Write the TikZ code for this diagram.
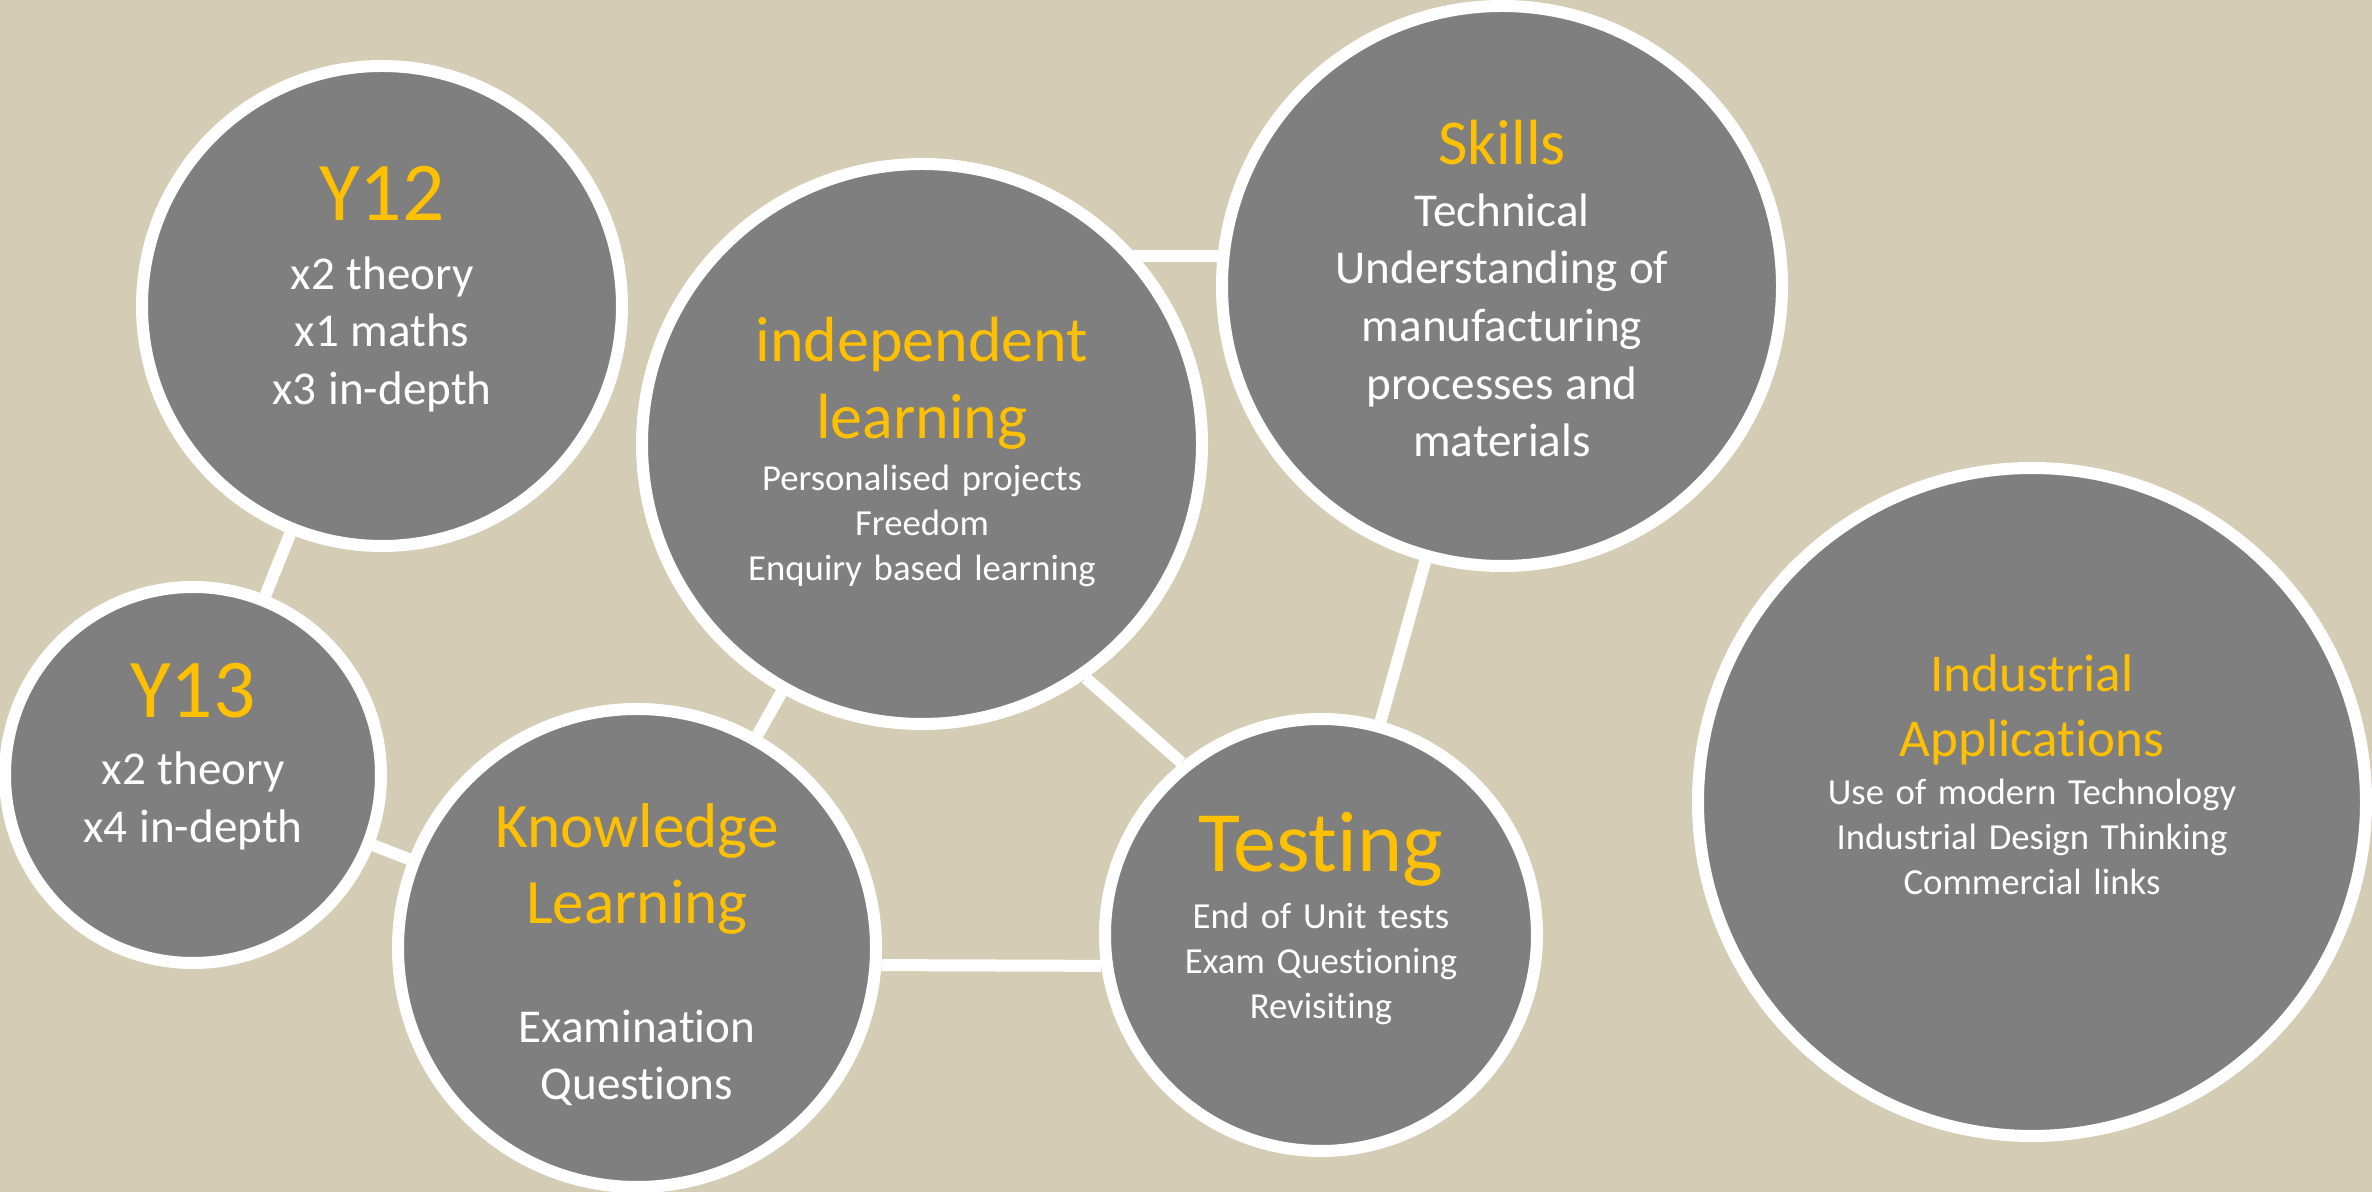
\documentclass[tikz,border=0pt]{standalone}
\usepackage{fontspec}
\setmainfont{Carlito}[Ligatures=NoCommon]
\definecolor{bgtan}{RGB}{212,204,180}
\definecolor{bubblegray}{RGB}{127,127,127}
\definecolor{gold}{RGB}{255,192,0}
\pgfdeclarelayer{backdrop}
\pgfdeclarelayer{links}
\pgfsetlayers{backdrop,links,main}

\begin{document}
\begin{tikzpicture}[
		bubble/.style = {circle, draw=white, fill=bubblegray, line width=1.2mm, inner sep=0pt},
		link/.style = {draw=white, line width=1.2mm},
		words/.style = {anchor=north, inner sep=0pt, text width=6cm, align=center, text=white}]
		
		\useasboundingbox (0,0) rectangle (23.72,11.92);
		\begin{pgfonlayer}{backdrop}
		\fill[bgtan] (0,0) rectangle (23.72,11.92);
		\end{pgfonlayer}
		
		\node[bubble, minimum size=4.80cm] (y12) at (3.82,8.86) {};
		\node[bubble, minimum size=3.76cm] (y13) at (1.93,4.17) {};
		\node[bubble, minimum size=5.60cm] (indep) at (9.22,7.48) {};
		\node[bubble, minimum size=5.60cm] (skills) at (15.02,9.06) {};
		\node[bubble, minimum size=4.78cm] (know) at (6.37,2.44) {};
		\node[bubble, minimum size=4.32cm] (test) at (13.21,2.57) {};
		\node[bubble, minimum size=6.68cm] (indus) at (20.32,3.90) {};
		
		\node[words] (y12 text) at ([yshift=1.40cm]y12.center)
			{\fontsize{23.8}{29}\selectfont\textcolor{gold}{Y12}\\[0.105cm]
			\fontsize{13.4}{16.4}\selectfont x2 theory\\x1 maths\\x3 in-depth\par};
		\node[words] (y13 text) at ([yshift=1.12cm]y13.center)
			{\fontsize{23.8}{29}\selectfont\textcolor{gold}{Y13}\\[0.09cm]
			\fontsize{13.4}{16.4}\selectfont x2 theory\\x4 in-depth\par};
		\node[words] (indep text) at ([yshift=1.28cm]indep.center)
			{\fontsize{18.2}{21.9}\selectfont\textcolor{gold}{independent}\\\textcolor{gold}{learning}\\[0.07cm]
			\fontsize{10.45}{12.8}\selectfont Personalised projects\\Freedom\\Enquiry based learning\par};
		\node[words] (skills text) at ([yshift=1.67cm]skills.center)
			{\fontsize{18.2}{22}\selectfont\textcolor{gold}{Skills}\\[0.045cm]
			\fontsize{13.4}{16.4}\selectfont Technical\\Understanding of\\manufacturing\\processes and\\materials\par};
		\node[words] (know text) at ([yshift=1.45cm]know.center)
			{\fontsize{18}{21.6}\selectfont\textcolor{gold}{Knowledge}\\\textcolor{gold}{Learning}\\[0.61cm]
			\fontsize{13.4}{16.4}\selectfont Examination\\Questions\par};
		\node[words] (test text) at ([yshift=1.23cm]test.center)
			{\fontsize{24.5}{30}\selectfont\textcolor{gold}{Testing}\\[0.12cm]
			\fontsize{10.45}{12.8}\selectfont End of Unit tests\\Exam Questioning\\Revisiting\par};
		\node[words] (indus text) at ([yshift=1.48cm]indus.center)
			{\fontsize{15.1}{18.4}\selectfont\textcolor{gold}{Industrial}\\\textcolor{gold}{Applications}\\[0.03cm]
			\fontsize{10.45}{12.8}\selectfont Use of modern Technology\\Industrial Design Thinking\\Commercial links\par};
		
		\begin{pgfonlayer}{links}
		\draw[link] (y12)--(y13)--(know)--(indep);
		\draw[link] (indep.-55)--(test.129);
		\draw[link] (know.-4)--(test.188);
		\draw[link] (test)--(skills);
		\draw[link] (skills.174)--(skills.174 -| indep.center);
		\end{pgfonlayer}
\end{tikzpicture}
\end{document}
